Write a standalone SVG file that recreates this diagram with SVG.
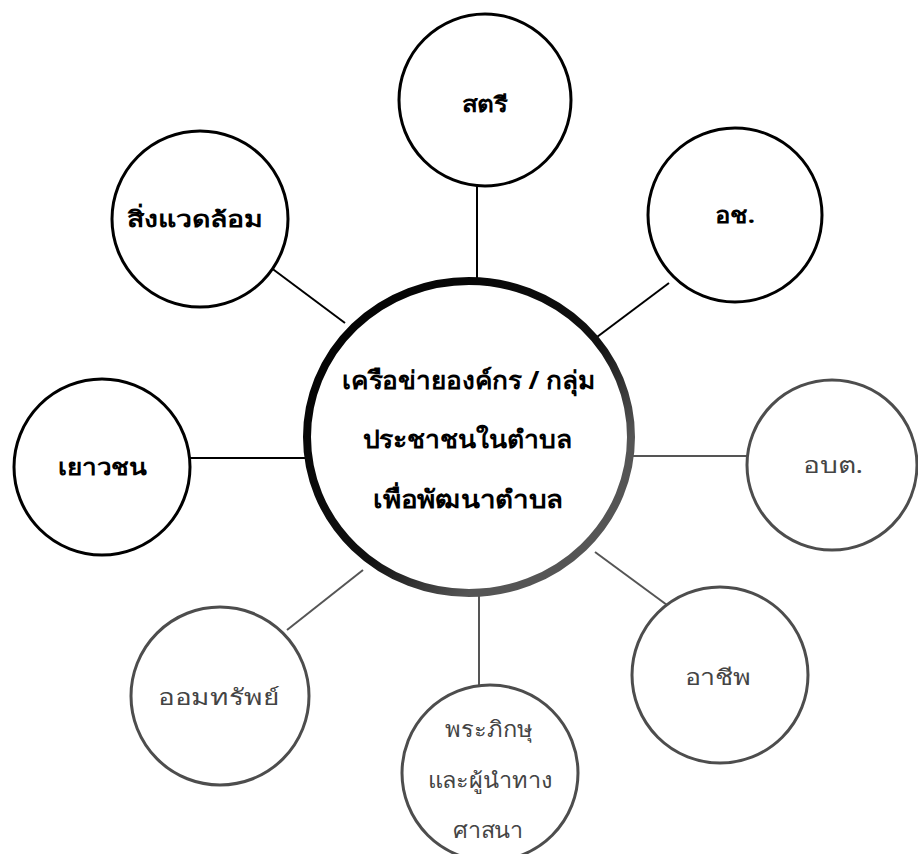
<svg xmlns="http://www.w3.org/2000/svg" width="918" height="854" viewBox="0 0 918 854">
<defs>
<linearGradient id="hubStroke" x1="0" y1="0" x2="1" y2="1">
<stop offset="0" stop-color="#000"/>
<stop offset="0.55" stop-color="#111"/>
<stop offset="0.75" stop-color="#555"/>
<stop offset="1" stop-color="#555"/>
</linearGradient>
<style>
.node{fill:#fff;stroke:#000;stroke-width:3}
.node.g{stroke:#4d4d4d}
.lbl{font-family:"Noto Sans","DejaVu Sans",sans-serif;font-weight:bold;font-size:22px;text-anchor:middle;fill:#000}
.lbl.g{fill:#444;font-weight:normal}
.hub{fill:#fff;stroke:url(#hubStroke);stroke-width:8}
.hubtxt{font-family:"Noto Sans","DejaVu Sans",sans-serif;font-weight:bold;font-size:25px;text-anchor:middle;fill:#000}
.conn line{stroke:#000;stroke-width:2}
.conn line.g{stroke:#555}
</style>
</defs>
<rect width="918" height="854" fill="#fff"/>
<g id="connectors" class="conn">
<line x1="477" y1="185" x2="477" y2="280"/>
<line x1="270" y1="267" x2="345" y2="323"/>
<line x1="669" y1="283" x2="597" y2="337"/>
<line x1="190" y1="458" x2="305" y2="458"/>
<line class="g" x1="632" y1="456" x2="747" y2="456"/>
<line class="g" x1="287" y1="630" x2="363" y2="570"/>
<line class="g" x1="479" y1="593" x2="479" y2="685"/>
<line class="g" x1="595" y1="552" x2="667" y2="605"/>
</g>
<g id="node-satri">
<circle class="node" cx="485" cy="100" r="86"/>
<text class="lbl" x="485" y="112" textLength="46" lengthAdjust="spacingAndGlyphs">สตรี</text>
</g>
<g id="node-environment">
<circle class="node" cx="200" cy="219" r="88"/>
<text class="lbl" x="195" y="227" textLength="136" lengthAdjust="spacingAndGlyphs">สิ่งแวดล้อม</text>
</g>
<g id="node-osor">
<circle class="node" cx="735" cy="215" r="87"/>
<text class="lbl" x="735" y="223" textLength="40" lengthAdjust="spacingAndGlyphs">อช.</text>
</g>
<g id="node-youth">
<circle class="node" cx="102" cy="467" r="88"/>
<text class="lbl" x="102" y="475" textLength="89" lengthAdjust="spacingAndGlyphs">เยาวชน</text>
</g>
<g id="node-obt">
<circle class="node g" cx="832" cy="465" r="85"/>
<text class="lbl g" x="833" y="473" textLength="60" lengthAdjust="spacingAndGlyphs">อบต.</text>
</g>
<g id="node-career">
<circle class="node g" cx="720" cy="675" r="88"/>
<text class="lbl g" x="718" y="685" textLength="67" lengthAdjust="spacingAndGlyphs">อาชีพ</text>
</g>
<g id="node-savings">
<circle class="node g" cx="220" cy="696" r="89"/>
<text class="lbl g" x="219" y="705" textLength="122" lengthAdjust="spacingAndGlyphs">ออมทรัพย์</text>
</g>
<g id="node-monks">
<circle class="node g" cx="490" cy="773" r="88"/>
<text class="lbl g" x="489" y="737" textLength="88" lengthAdjust="spacingAndGlyphs">พระภิกษุ</text>
<text class="lbl g" x="490" y="788" textLength="125" lengthAdjust="spacingAndGlyphs">และผู้นำทาง</text>
<text class="lbl g" x="488" y="838" textLength="70" lengthAdjust="spacingAndGlyphs">ศาสนา</text>
</g>
<g id="node-hub">
<ellipse class="hub" cx="469" cy="437" rx="162" ry="156"/>
<text class="hubtxt" x="468" y="389" textLength="253" lengthAdjust="spacingAndGlyphs">เครือข่ายองค์กร / กลุ่ม</text>
<text class="hubtxt" x="467" y="448" textLength="209" lengthAdjust="spacingAndGlyphs">ประชาชนในตำบล</text>
<text class="hubtxt" x="468" y="508" textLength="190" lengthAdjust="spacingAndGlyphs">เพื่อพัฒนาตำบล</text>
</g>
</svg>
